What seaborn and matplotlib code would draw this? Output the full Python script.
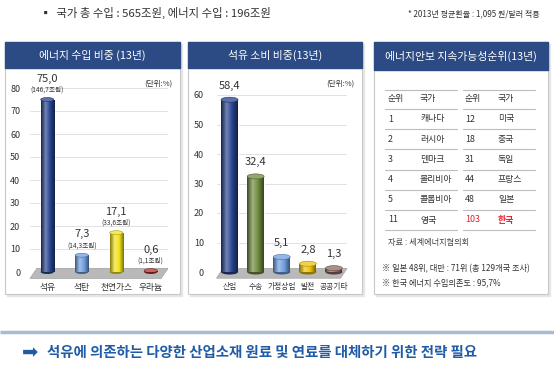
import numpy as np
import matplotlib.pyplot as plt
import seaborn as sns
from matplotlib.patches import Rectangle, Ellipse, Polygon
from matplotlib.colors import LinearSegmentedColormap, to_rgb

W, H = 554, 366

# 에너지 수입 비중 (13년)
import_cats = ['석유', '석탄', '천연가스', '우라늄']
import_share = [75.0, 7.3, 17.1, 0.6]
import_amount = ['(146,7조원)', '(14,3조원)', '(33,6조원)', '(1,1조원)']
import_colors = ['#26428c', '#6f9fe0', '#f2e21c', '#b3302c']

# 석유 소비 비중 (13년)
oil_cats = ['산업', '수송', '가정상업', '발전', '공공기타']
oil_share = [58.4, 32.4, 5.1, 2.8, 1.3]
oil_colors = ['#26428c', '#6e8a3c', '#6f9fe0', '#f0c20a', '#8c6b62']

# 에너지안보 지속가능성 순위 (13년)
rank_left = ['1', '2', '3', '4', '5', '11']
country_left = ['캐나다', '러시아', '덴마크', '볼리비아', '콜롬비아', '영국']
rank_right = ['12', '18', '31', '44', '48', '103']
country_right = ['미국', '중국', '독일', '프랑스', '일본', '한국']

sns.set_theme(style='white')
plt.rcParams['font.family'] = ['Noto Sans CJK KR', 'DejaVu Sans']

fig = plt.figure(figsize=(W / 100, H / 100), dpi=100)
bg = fig.add_axes([0, 0, 1, 1], zorder=0)
bg.set_xlim(0, W)
bg.set_ylim(H, 0)
bg.axis('off')

TXT = '#333333'
NAVY = '#2c4b84'
BLUE = '#1f5ba6'


def shade(c, f):
    r, g, b = to_rgb(c)
    if f <= 1:
        return (r * f, g * f, b * f)
    f = f - 1
    return (r + (1 - r) * f, g + (1 - g) * f, b + (1 - b) * f)


def panel(x0, x1, y0, y1, title, head_h):
    bg.add_patch(Rectangle((x0 + 2, y0 + 2), x1 - x0, y1 - y0, color='#e6e6e6', zorder=0))
    bg.add_patch(Rectangle((x0, y0), x1 - x0, y1 - y0, facecolor='white',
                           edgecolor='#c8c8c8', lw=0.8, zorder=1))
    bg.add_patch(Rectangle((x0, y0), x1 - x0, head_h, color=NAVY, zorder=2))
    bg.text((x0 + x1) / 2, y0 + head_h / 2 + 0.5, title, color='white',
            ha='center', va='center', fontsize=7.8, zorder=3)


def px_axes(x0, x1, y_bottom, y_top):
    return fig.add_axes([x0 / W, 1 - y_bottom / H, (x1 - x0) / W, (y_bottom - y_top) / H], zorder=2)


def cylinders(ax, colors, n, ymax):
    ax.set_xlim(-0.5, n - 0.5)
    ax.set_ylim(0, ymax)
    ax.autoscale(False)
    pos = ax.get_position()
    px_x = pos.width * W / n
    px_y = pos.height * H / ymax
    for bar, c in zip(ax.patches[:len(colors)], colors):
        x, w, h = bar.get_x(), bar.get_width(), bar.get_height()
        cmap = LinearSegmentedColormap.from_list(
            'cyl', [shade(c, 0.55), shade(c, 1.35), c, shade(c, 0.5)])
        grad = np.linspace(0, 1, 64).reshape(1, -1)
        im = ax.imshow(grad, extent=(x, x + w, 0, h), aspect='auto', cmap=cmap,
                       origin='lower', zorder=2.1)
        im.set_clip_path(bar)
        cap = 0.3 * w * px_x / px_y
        ax.add_patch(Ellipse((x + w / 2, 0), w, cap, facecolor=shade(c, 0.6), lw=0,
                             zorder=1.9, clip_on=False))
        ax.add_patch(Ellipse((x + w / 2, h), w, cap, facecolor=shade(c, 1.25),
                             edgecolor=shade(c, 0.7), lw=0.4, zorder=2.5))


def style_axes(ax, ymax, ytick_pad, xsize):
    ax.set_facecolor('none')
    for s in ax.spines.values():
        s.set_visible(False)
    ax.set_ylim(0, ymax)
    ax.set_yticks(range(0, ymax + 1, 10))
    ax.yaxis.grid(True, color='#e2e2e2', lw=0.7)
    ax.set_axisbelow(True)
    ax.tick_params(axis='y', labelsize=6.5, labelcolor=TXT, pad=ytick_pad, length=0)
    ax.tick_params(axis='x', labelsize=xsize, labelcolor=TXT, pad=8, length=0)
    ax.set_xlabel('')
    ax.set_ylabel('')
    # gray floor under the bars
    ax.add_patch(Polygon([(0.0, -0.035), (0.95, -0.035), (1.0, 0.02), (0.05, 0.02)],
                         closed=True, transform=ax.transAxes, facecolor='#b9b9b9',
                         edgecolor='#a0a0a0', lw=0.5, clip_on=False, zorder=1.5))


# top line texts
bg.text(40, 13, '▪  국가 총 수입 : 565조원, 에너지 수입 : 196조원', fontsize=8.2,
        color=TXT, ha='left', va='center')
bg.text(540, 14, '* 2013년 평균환율 : 1,095 원/달러 적용', fontsize=5.8,
        color=TXT, ha='right', va='center')

panel(5, 180, 42, 294, '에너지 수입 비중 (13년)', 26)
panel(188, 362, 42, 294, '석유 소비 비중(13년)', 26)
panel(374, 548, 42, 294, '에너지안보 지속가능성순위(13년)', 28)

# chart 1
ax1 = px_axes(30, 168, 272, 88)
sns.barplot(x=import_cats, y=import_share, hue=import_cats, palette=import_colors,
            legend=False, width=0.38, ax=ax1)
style_axes(ax1, 80, 7, 6.3)
cylinders(ax1, import_colors, len(import_cats), 80)
for bar, v, amt in zip(ax1.patches, import_share, import_amount):
    cx, h = bar.get_x() + bar.get_width() / 2, bar.get_height()
    ax1.annotate(f'{v:.1f}'.replace('.', ','), (cx, h), xytext=(0, 21), textcoords='offset pixels',
                 ha='center', va='center', fontsize=8, color=TXT, annotation_clip=False)
    ax1.annotate(amt, (cx, h), xytext=(0, 10), textcoords='offset pixels',
                 ha='center', va='center', fontsize=4.8, color=TXT, annotation_clip=False)
bg.text(158, 84, '(단위:%)', fontsize=5.5, color=TXT, ha='center', va='center')

# chart 2
ax2 = px_axes(216.5, 347, 272, 95)
sns.barplot(x=oil_cats, y=oil_share, hue=oil_cats, palette=oil_colors,
            legend=False, width=0.65, ax=ax2)
style_axes(ax2, 60, 9, 5.6)
cylinders(ax2, oil_colors, len(oil_cats), 60)
for bar, v in zip(ax2.patches, oil_share):
    cx, h = bar.get_x() + bar.get_width() / 2, bar.get_height()
    ax2.annotate(f'{v:.1f}'.replace('.', ','), (cx, h), xytext=(0, 14), textcoords='offset pixels',
                 ha='center', va='center', fontsize=8, color=TXT, annotation_clip=False)
bg.text(340, 84, '(단위:%)', fontsize=5.5, color=TXT, ha='center', va='center')

# ranking table
head_y, row0, step = 99, 119, 20.2
fs = 6.4
bg.plot([385, 457], [90, 90], color='#bdbdbd', lw=0.8, zorder=3)
bg.plot([463, 535], [90, 90], color='#bdbdbd', lw=0.8, zorder=3)
for x, lab in zip([388, 420, 465, 498], ['순위', '국가', '순위', '국가']):
    bg.text(x, head_y, lab, fontsize=fs, color=TXT, ha='left', va='center', zorder=3)
for i in range(len(rank_left)):
    y = row0 + i * step
    red = rank_right[i] == '103'
    rc = '#e3202b' if red else TXT
    bg.text(388, y, rank_left[i], fontsize=fs, color=TXT, ha='left', va='center', zorder=3)
    bg.text(420, y, country_left[i], fontsize=fs, color=TXT, ha='left', va='center', zorder=3)
    bg.text(465, y, rank_right[i], fontsize=fs, color=rc, ha='left', va='center', zorder=3)
    bg.text(498, y, country_right[i], fontsize=fs, color=rc, ha='left', va='center', zorder=3,
            weight='bold' if red else 'normal')
for i in range(len(rank_left) + 1):
    y = row0 - 10 + i * step
    bg.plot([385, 457], [y, y], color='#bdbdbd', lw=0.8, zorder=3)
    bg.plot([463, 535], [y, y], color='#bdbdbd', lw=0.8, zorder=3)
bg.text(388, 242, '자료 : 세계에너지협의회', fontsize=5.9, color='#444444', ha='left', va='center', zorder=3)
bg.text(382, 269, '※ 일본 48위, 대만 : 71위 (총 129개국 조사)', fontsize=5.9, color=TXT,
        ha='left', va='center', zorder=3)
bg.text(382, 283, '※ 한국 에너지 수입의존도 : 95,7%', fontsize=5.9, color=TXT,
        ha='left', va='center', zorder=3)

# bottom conclusion
bg.plot([0, W], [332, 332], color='#a7bbd2', lw=2.5, solid_capstyle='butt')
bg.text(30, 353, '➡', fontsize=14, color=BLUE, ha='center', va='center',
        family=['DejaVu Sans'])
bg.text(47, 353, '석유에 의존하는 다양한 산업소재 원료 및 연료를 대체하기 위한 전략 필요',
        fontsize=10.4, color=BLUE, ha='left', va='center', weight='bold')

fig.savefig('out.png', dpi=100)
